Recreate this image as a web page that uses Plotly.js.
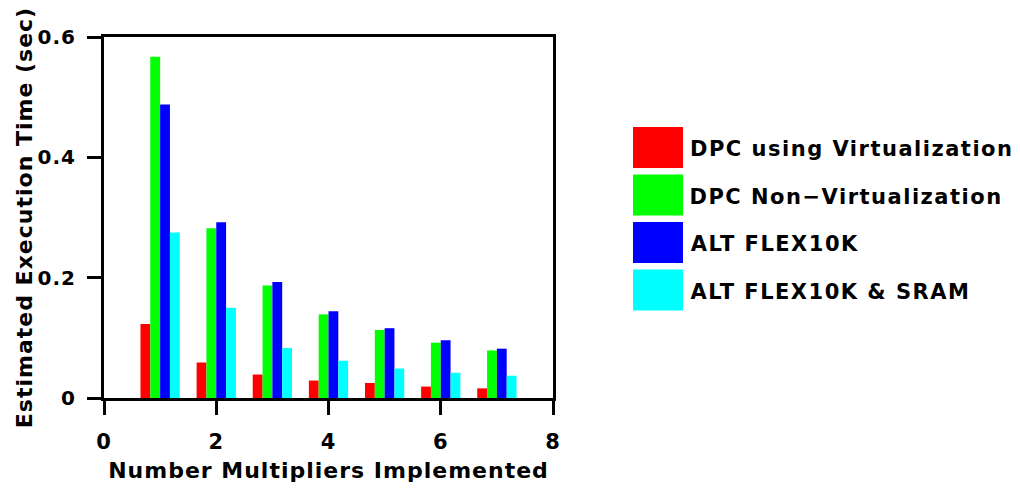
<!DOCTYPE html>
<html>
<head>
<meta charset="utf-8">
<script src="https://cdn.plot.ly/plotly-3.0.1.min.js"></script>
<style>
html,body{margin:0;padding:0;background:#fff;}
#chart{width:1020px;height:489px;}
#chart .annotation-text{letter-spacing:1.5px;}
#chart .g-xtitle text, #chart .g-ytitle text{letter-spacing:1px;}
#chart .xtick text, #chart .ytick text{letter-spacing:1px;}
</style>
</head>
<body>
<div id="chart"></div>
<script>
const multipliers = [1, 2, 3, 4, 5, 6, 7];
const seriesNames = ["DPC using Virtualization", "DPC Non\u2212Virtualization", "ALT FLEX10K", "ALT FLEX10K & SRAM"];
const dpcVirtual = [0.123, 0.059, 0.039, 0.029, 0.025, 0.019, 0.016];
const dpcNonVirtual = [0.567, 0.282, 0.187, 0.139, 0.113, 0.092, 0.079];
const altFlex = [0.488, 0.292, 0.193, 0.144, 0.116, 0.096, 0.082];
const altFlexSram = [0.275, 0.150, 0.083, 0.062, 0.049, 0.042, 0.037];
const colors = ["#ff0000", "#00ff00", "#0000ff", "#00ffff"];
const xTickVals = [0, 2, 4, 6, 8];
const yTickVals = [0, 0.2, 0.4, 0.6];

const allSeries = [dpcVirtual, dpcNonVirtual, altFlex, altFlexSram];
const font = {family: "DejaVu Sans, Liberation Sans, sans-serif", color: "#000", weight: "bold"};

const traces = allSeries.map((vals, i) => ({
  type: "bar", x: multipliers, y: vals, name: seriesNames[i],
  marker: {color: colors[i], line: {width: 0}}, showlegend: false, hoverinfo: "skip"
}));

const shapes = [];
const annotations = [];
const W = 1020, H = 489, ml = 104, mr = 467, mt = 37, mb = 91;
const pw = W - ml - mr, ph = H - mt - mb;
const px = x => (x - ml) / pw;
const py = y => (H - mb - y) / ph;
seriesNames.forEach((nm, i) => {
  const top = 127 + i * 47.5;
  shapes.push({type: "rect", xref: "paper", yref: "paper",
    x0: px(633), x1: px(683), y0: py(top + 41), y1: py(top),
    fillcolor: colors[i], line: {width: 0}});
  // letter-spacing widens the centred annotation text; offset compensates
  annotations.push({xref: "paper", yref: "paper", x: px(689 + 0.7 * nm.length), y: py(top + 22),
    xanchor: "left", yanchor: "middle", showarrow: false, text: nm,
    font: Object.assign({}, font, {size: 21})});
});

const layout = {
  width: W, height: H,
  margin: {l: ml, r: mr, t: mt, b: mb, pad: 0},
  paper_bgcolor: "#fff", plot_bgcolor: "#fff",
  barmode: "group", bargap: 0.3, bargroupgap: 0,
  font: font,
  xaxis: {
    range: [0, 8], tickvals: xTickVals, ticktext: xTickVals.map(String),
    ticks: "outside", ticklen: 14, tickwidth: 3, tickcolor: "#000",
    showline: true, linewidth: 3, linecolor: "#000", mirror: true,
    showgrid: false, zeroline: false, ticklabelstandoff: 9,
    tickfont: Object.assign({}, font, {size: 21}),
    title: {text: "Number Multipliers Implemented", font: Object.assign({}, font, {size: 22}), standoff: 10}
  },
  yaxis: {
    range: [0, 0.6], tickvals: yTickVals, ticktext: ["0", "0.2", "0.4", "0.6"],
    ticks: "outside", ticklen: 14, tickwidth: 3, tickcolor: "#000",
    showline: true, linewidth: 3, linecolor: "#000", mirror: true,
    showgrid: false, zeroline: false, ticklabelstandoff: 7,
    tickfont: Object.assign({}, font, {size: 20}),
    title: {text: "Estimated Execution Time (sec)", font: Object.assign({}, font, {size: 22}), standoff: 2}
  },
  shapes: shapes,
  annotations: annotations
};

Plotly.newPlot("chart", traces, layout, {displayModeBar: false, staticPlot: true});
</script>
</body>
</html>
